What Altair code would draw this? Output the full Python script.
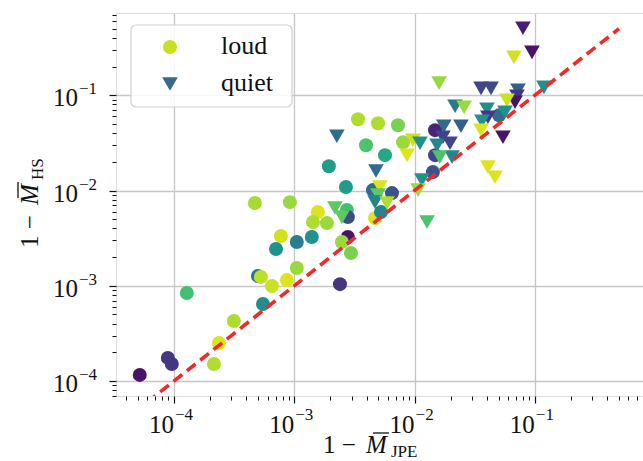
import altair as alt
import pandas as pd

FONT = "Liberation Serif"

# ---- data (1 - M_JPE, 1 - M_HS, colour value 0..1) ----
loud_x = [5.2e-5, 8.9e-5, 9.6e-5, 1.28e-4, 2.15e-4, 2.37e-4, 3.15e-4, 4.71e-4, 9.2e-4, 7.74e-4,
          7.05e-4, 4.99e-4, 5.28e-4, 6.53e-4, 8.7e-4, 5.5e-4, 1.05e-3, 1.05e-3, 1.40e-3, 1.57e-3,
          1.43e-3, 1.87e-3, 2.69e-3, 2.74e-3, 2.79e-3, 2.79e-3, 2.49e-3, 2.96e-3, 2.40e-3, 3.39e-3,
          4.97e-3, 7.28e-3, 3.95e-3, 5.68e-3, 1.94e-3, 8.02e-3, 4.51e-3, 6.49e-3, 4.69e-3, 5.26e-3,
          1.48e-2, 1.48e-2, 1.42e-2, 5.04e-2]
loud_y = [1.16e-4, 1.75e-4, 1.51e-4, 8.4e-4, 1.51e-4, 2.51e-4, 4.27e-4, 7.4e-3, 7.55e-3, 3.33e-3,
          2.43e-3, 1.27e-3, 1.24e-3, 9.95e-4, 1.15e-3, 6.44e-4, 2.88e-3, 1.54e-3, 3.25e-3, 5.94e-3,
          4.67e-3, 4.55e-3, 1.09e-2, 6.24e-3, 5.26e-3, 3.25e-3, 2.88e-3, 2.21e-3, 1.04e-3, 5.6e-2,
          5.09e-2, 4.85e-2, 2.99e-2, 2.35e-2, 1.80e-2, 3.21e-2, 1.01e-2, 9.4e-3, 5.14e-3, 5.94e-3,
          4.3e-2, 2.35e-2, 1.56e-2, 6.17e-2]
loud_c = [0.05, 0.15, 0.15, 0.70, 0.88, 0.95, 0.88, 0.87, 0.85, 0.93,
          0.50, 0.40, 0.90, 0.92, 0.95, 0.48, 0.42, 0.85, 0.50, 0.95,
          0.88, 0.85, 0.55, 0.70, 0.22, 0.05, 0.85, 0.80, 0.15, 0.88,
          0.88, 0.80, 0.72, 0.60, 0.55, 0.85, 0.35, 0.25, 0.95, 0.45,
          0.10, 0.20, 0.25, 0.35]

quiet_x = [2.26e-3, 4.78e-3, 2.18e-3, 2.49e-3, 5.15e-3, 4.97e-3, 4.69e-3, 5.9e-3, 9.7e-3, 8.65e-3,
           1.11e-2, 1.15e-2, 1.07e-2, 1.27e-2, 1.60e-2, 3.57e-2, 4.32e-2, 7.24e-2, 7.1e-2, 6.84e-2,
           0.119, 5.86e-2, 7.96e-2, 9.46e-2, 6.70e-2, 2.17e-2, 2.58e-2, 4.00e-2, 5.64e-2, 4.07e-2,
           3.63e-2, 3.57e-2, 5.43e-2, 1.75e-2, 2.43e-2, 1.72e-2, 1.54e-2, 1.97e-2, 2.05e-2, 1.62e-2,
           4.07e-2, 4.66e-2]
quiet_y = [3.72e-2, 1.60e-2, 6.55e-3, 5.26e-3, 1.09e-2, 8.95e-3, 7.55e-3, 7.38e-3, 3.37e-2, 2.35e-2,
           3.14e-2, 1.29e-2, 1.01e-2, 4.67e-3, 0.134, 0.118, 0.118, 0.113, 9.77e-2, 8.45e-2,
           0.121, 8.87e-2, 0.504, 0.282, 0.250, 7.67e-2, 7.48e-2, 7.13e-2, 6.64e-2, 5.88e-2,
           5.33e-2, 4.3e-2, 3.63e-2, 4.73e-2, 4.73e-2, 3.63e-2, 2.99e-2, 3.14e-2, 2.24e-2, 2.24e-2,
           1.76e-2, 1.38e-2]
quiet_c = [0.35, 0.35, 0.75, 0.75, 0.95, 0.75, 0.45, 0.88, 0.92, 0.95,
           0.50, 0.50, 0.85, 0.72, 0.85, 0.20, 0.22, 0.30, 0.15, 0.05,
           0.50, 0.92, 0.08, 0.05, 0.93, 0.40, 0.85, 0.48, 0.50, 0.15,
           0.50, 0.95, 0.05, 0.35, 0.30, 0.20, 0.45, 0.20, 0.45, 0.72,
           0.95, 0.95]

diag_x = [1e-5, 0.5]          # y = x reference line
major_ticks = [1e-4, 1e-3, 1e-2, 1e-1]
tick_base = ["10", "10", "10", "10"]
tick_exp = ["\u22124", "\u22123", "\u22122", "\u22121"]
legend_labels = ["loud", "quiet"]

minor_x = [k * 10.0 ** e for e in range(-5, 0) for k in range(2, 10) if 3.3e-5 <= k * 10.0 ** e <= 0.79]
minor_y = [k * 10.0 ** e for e in range(-5, 0) for k in range(2, 10) if 6.97e-5 <= k * 10.0 ** e <= 0.73]

loud = pd.DataFrame({"x": loud_x, "y": loud_y, "c": loud_c})
quiet = pd.DataFrame({"x": quiet_x, "y": quiet_y, "c": quiet_c})
diag = pd.DataFrame({"x": diag_x, "y": diag_x})
ticks = pd.DataFrame({"v": major_ticks, "b": tick_base, "e": tick_exp})
one = pd.DataFrame({"a": [0]})

W, H = 527, 383
xs = alt.Scale(type="log", domain=[3.3e-5, 0.792], nice=False)
ys = alt.Scale(type="log", domain=[6.97e-5, 0.73], nice=False)
cs = alt.Scale(scheme="viridis", domain=[0, 1])

major_axis = dict(values=major_ticks, labels=False, grid=True, gridColor="#c6c6c6", gridWidth=1.3,
                  tickSize=7, tickColor="#111", tickWidth=1.2, domain=False, title=None)
minor_axis = dict(values=None, labels=False, grid=False, tickSize=4, tickColor="#111",
                  tickWidth=1, domain=False, title=None)

loud_layer = alt.Chart(loud).mark_point(filled=True, opacity=1, shape="circle", size=196, strokeWidth=0).encode(
    x=alt.X("x:Q", scale=xs, axis=alt.Axis(orient="bottom", **major_axis)),
    y=alt.Y("y:Q", scale=ys, axis=alt.Axis(orient="left", **major_axis)),
    color=alt.Color("c:Q", scale=cs, legend=None),
)
quiet_layer = alt.Chart(quiet).mark_point(filled=True, opacity=1, shape="triangle-down", size=245, strokeWidth=0).encode(
    x=alt.X("x:Q", scale=xs, axis=None),
    y=alt.Y("y:Q", scale=ys, axis=None),
    color=alt.Color("c:Q", scale=cs, legend=None),
)
mx = dict(minor_axis); mx["values"] = minor_x
my = dict(minor_axis); my["values"] = minor_y
diag_layer = alt.Chart(diag).mark_line(color="#f02a2a", strokeWidth=3.6, strokeDash=[11, 6], clip=True).encode(
    x=alt.X("x:Q", scale=xs, axis=alt.Axis(orient="bottom", **mx)),
    y=alt.Y("y:Q", scale=ys, axis=alt.Axis(orient="left", **my)),
)

# tick labels 10^n
xl_base = alt.Chart(ticks).mark_text(font=FONT, fontSize=25, align="right", baseline="alphabetic", color="#111").encode(
    x=alt.X("v:Q", scale=xs, axis=None), y=alt.value(420), text="b:N")
xl_exp = alt.Chart(ticks).mark_text(font=FONT, fontSize=17, align="left", baseline="alphabetic", dx=1, color="#111").encode(
    x=alt.X("v:Q", scale=xs, axis=None), y=alt.value(407), text="e:N")
yl_base = alt.Chart(ticks).mark_text(font=FONT, fontSize=25, align="right", baseline="middle", dy=3, color="#111").encode(
    y=alt.Y("v:Q", scale=ys, axis=None), x=alt.value(-38), text="b:N")
yl_exp = alt.Chart(ticks).mark_text(font=FONT, fontSize=17, align="left", baseline="middle", dy=-6, color="#111").encode(
    y=alt.Y("v:Q", scale=ys, axis=None), x=alt.value(-37), text="e:N")

# axis titles
def txt(s, x, y, size=25, style="normal", angle=0):
    kw = dict(font=FONT, fontSize=size, align="left", baseline="alphabetic", color="#111", fontStyle=style)
    if angle:
        kw["angle"] = angle
    return alt.Chart(one).mark_text(text=s, **kw).encode(x=alt.value(x), y=alt.value(y))

def bar(x1, x2, y1, y2):
    return alt.Chart(one).mark_rule(color="#111", strokeWidth=1.3).encode(
        x=alt.value(x1), x2=alt.value(x2), y=alt.value(y1), y2=alt.value(y2))

xt = [txt("1 \u2212", 207, 440), txt("M", 250, 440, style="italic"), txt("JPE", 275, 444, size=17),
      bar(257, 273, 420, 420)]
yt = [txt("1 \u2212", -78, 235, angle=270), txt("M", -78, 192, style="italic", angle=270),
      txt("HS", -73, 167, size=17, angle=270), bar(-98, -98, 185, 169)]

# legend
leg_box = alt.Chart(one).mark_rect(fill="white", fillOpacity=0.85, stroke="#d0d0d0", strokeWidth=1.2, cornerRadius=5).encode(
    x=alt.value(15), x2=alt.value(176), y=alt.value(12), y2=alt.value(94))
leg_loud = alt.Chart(one).mark_point(filled=True, opacity=1, shape="circle", size=196, color="#c8e020").encode(
    x=alt.value(54), y=alt.value(34))
leg_quiet = alt.Chart(one).mark_point(filled=True, opacity=1, shape="triangle-down", size=245, color="#38688c").encode(
    x=alt.value(54), y=alt.value(71))
leg_t1 = txt(legend_labels[0], 105, 41, size=26)
leg_t2 = txt(legend_labels[1], 105, 78, size=26)

chart = alt.layer(
    loud_layer, quiet_layer, diag_layer,
    xl_base, xl_exp, yl_base, yl_exp, *xt, *yt,
    leg_box, leg_loud, leg_quiet, leg_t1, leg_t2,
).resolve_axis(x="independent", y="independent").properties(
    width=W, height=H,
    padding={"left": 116, "top": 13, "right": 0, "bottom": 65},
    autosize=alt.AutoSizeParams(type="none"),
).configure_view(stroke="#1a1a1a", strokeWidth=1.3).configure(background="white")

chart.save("out.html", embed_options={"renderer": "svg", "actions": False})
